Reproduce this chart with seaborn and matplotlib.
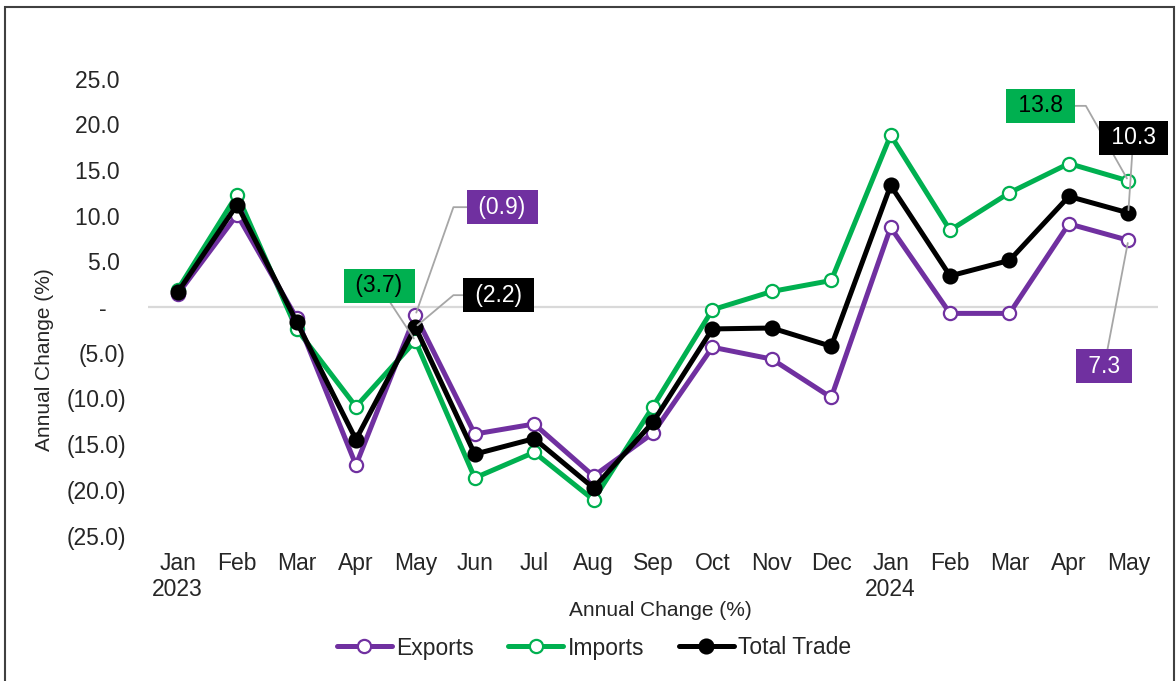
import matplotlib
matplotlib.use("Agg")
import matplotlib.pyplot as plt
import matplotlib.patches as mpatches
from matplotlib.ticker import FuncFormatter, FixedLocator
import seaborn as sns
import pandas as pd
import numpy as np

# ---- data ----
months = ["Jan\n2023", "Feb", "Mar", "Apr", "May", "Jun", "Jul", "Aug", "Sep",
          "Oct", "Nov", "Dec", "Jan\n2024", "Feb", "Mar", "Apr", "May"]
exports = [1.4, 10.1, -1.2, -17.3, -0.9, -13.9, -12.8, -18.5, -13.8, -4.4,
           -5.7, -9.9, 8.7, -0.7, -0.7, 9.1, 7.3]
imports = [1.9, 12.3, -2.4, -10.9, -3.7, -18.7, -15.9, -21.1, -10.9, -0.3,
           1.7, 2.9, 18.8, 8.4, 12.5, 15.7, 13.8]
total_trade = [1.6, 11.2, -1.6, -14.5, -2.2, -16.1, -14.4, -19.8, -12.6, -2.4,
               -2.3, -4.3, 13.3, 3.4, 5.1, 12.1, 10.3]
y_ticks = [25, 20, 15, 10, 5, 0, -5, -10, -15, -20, -25]
axis_title = "Annual Change (%)"

PURPLE = "#7030A0"
GREEN = "#00B050"
BLACK = "#000000"

sns.set_theme(style="white")
plt.rcParams["font.family"] = ["Liberation Sans", "DejaVu Sans"]

FS = 16.5
W, H = 1176, 681
fig = plt.figure(figsize=(W / 100, H / 100), dpi=100)
ax = fig.add_axes([148 / W, (H - 535.5) / H, 1010 / W, 457 / H])

x = np.arange(len(months))
df = pd.DataFrame({"idx": x, "Exports": exports, "Imports": imports,
                   "Total Trade": total_trade})

ax.axhline(0, color="#D9D9D9", lw=1.6, zorder=0)

sns.lineplot(data=df, x="idx", y="Imports", ax=ax, color=GREEN, lw=3.6,
             marker="o", markersize=9.5, markerfacecolor="white",
             markeredgecolor=GREEN, markeredgewidth=1.6, label="Imports",
             zorder=3)
sns.lineplot(data=df, x="idx", y="Exports", ax=ax, color=PURPLE, lw=3.6,
             marker="o", markersize=9.5, markerfacecolor="white",
             markeredgecolor=PURPLE, markeredgewidth=1.6, label="Exports",
             zorder=4)
sns.lineplot(data=df, x="idx", y="Total Trade", ax=ax, color=BLACK, lw=3.6,
             marker="o", markersize=10, markerfacecolor=BLACK,
             markeredgecolor=BLACK, markeredgewidth=1.6, label="Total Trade",
             zorder=5)

leg = ax.get_legend()
if leg is not None:
    leg.remove()

ax.set_xlim(-0.5, len(months) - 0.5)
ax.set_ylim(-25, 25)
ax.xaxis.set_major_locator(FixedLocator(x))
ax.set_xticklabels(months, fontsize=FS, linespacing=1.15)
ax.yaxis.set_major_locator(FixedLocator(y_ticks))


def fmt(v, pos=None):
    if abs(v) < 1e-9:
        return "-   "
    if v < 0:
        return f"({abs(v):.1f})"
    return f"{v:.1f} "


ax.yaxis.set_major_formatter(FuncFormatter(fmt))
ax.tick_params(axis="y", labelsize=FS, length=0, pad=16)
ax.tick_params(axis="x", labelsize=FS, length=0, pad=12)
for s in ax.spines.values():
    s.set_visible(False)

ax.set_xlabel(axis_title, fontsize=15, va="center")
ax.xaxis.set_label_coords((660 - 148) / 1010, (535.5 - 610) / 457)
ax.set_ylabel(axis_title, fontsize=15, va="center", ha="center")
ax.yaxis.set_label_coords((45 - 148) / 1010, (535.5 - 360) / 457)

# ---- data labels ----
def label(i, series, text, fc, tc, offset, conn="arc3"):
    ax.annotate(text, xy=(i, series[i]), xytext=offset,
                textcoords="offset points", ha="center", va="center",
                fontsize=FS, color=tc, zorder=10,
                bbox=dict(boxstyle="square,pad=0.25", fc=fc, ec="none"),
                arrowprops=dict(arrowstyle="-", color="#A6A6A6", lw=1.3,
                                connectionstyle=conn, shrinkA=0, shrinkB=2))


label(4, exports, " (0.9) ", PURPLE, "white", (62.6, 77.8),
      "angle,angleA=0,angleB=70.6,rad=0")
label(4, imports, " (3.7) ", GREEN, "black", (-26, 39.6))
label(4, total_trade, " (2.2) ", BLACK, "white", (59.8, 23),
      "angle,angleA=0,angleB=40,rad=0")
label(16, imports, " 13.8 ", GREEN, "black", (-63.4, 54),
      "angle,angleA=0,angleB=119.5,rad=0")
label(16, total_trade, " 10.3 ", BLACK, "white", (3.6, 54))
label(16, exports, " 7.3 ", PURPLE, "white", (-17.3, -90.7))

# ---- legend ----
handles, labels = ax.get_legend_handles_labels()
order = [labels.index(n) for n in ["Exports", "Imports", "Total Trade"]]
fig.legend([handles[k] for k in order], [labels[k] for k in order],
           loc="center", bbox_to_anchor=(594 / W, 1 - 648 / H), ncol=3,
           frameon=False, fontsize=FS, handlelength=2.4, handletextpad=0.2,
           columnspacing=1.5)

# ---- chart border ----
fig.patches.append(mpatches.Rectangle((5 / W, -0.05), (1174 - 5) / W,
                                      (1 - 7 / H) + 0.05, fill=False,
                                      edgecolor="#404040", lw=1.5,
                                      transform=fig.transFigure))

fig.savefig("out.png", dpi=100)
